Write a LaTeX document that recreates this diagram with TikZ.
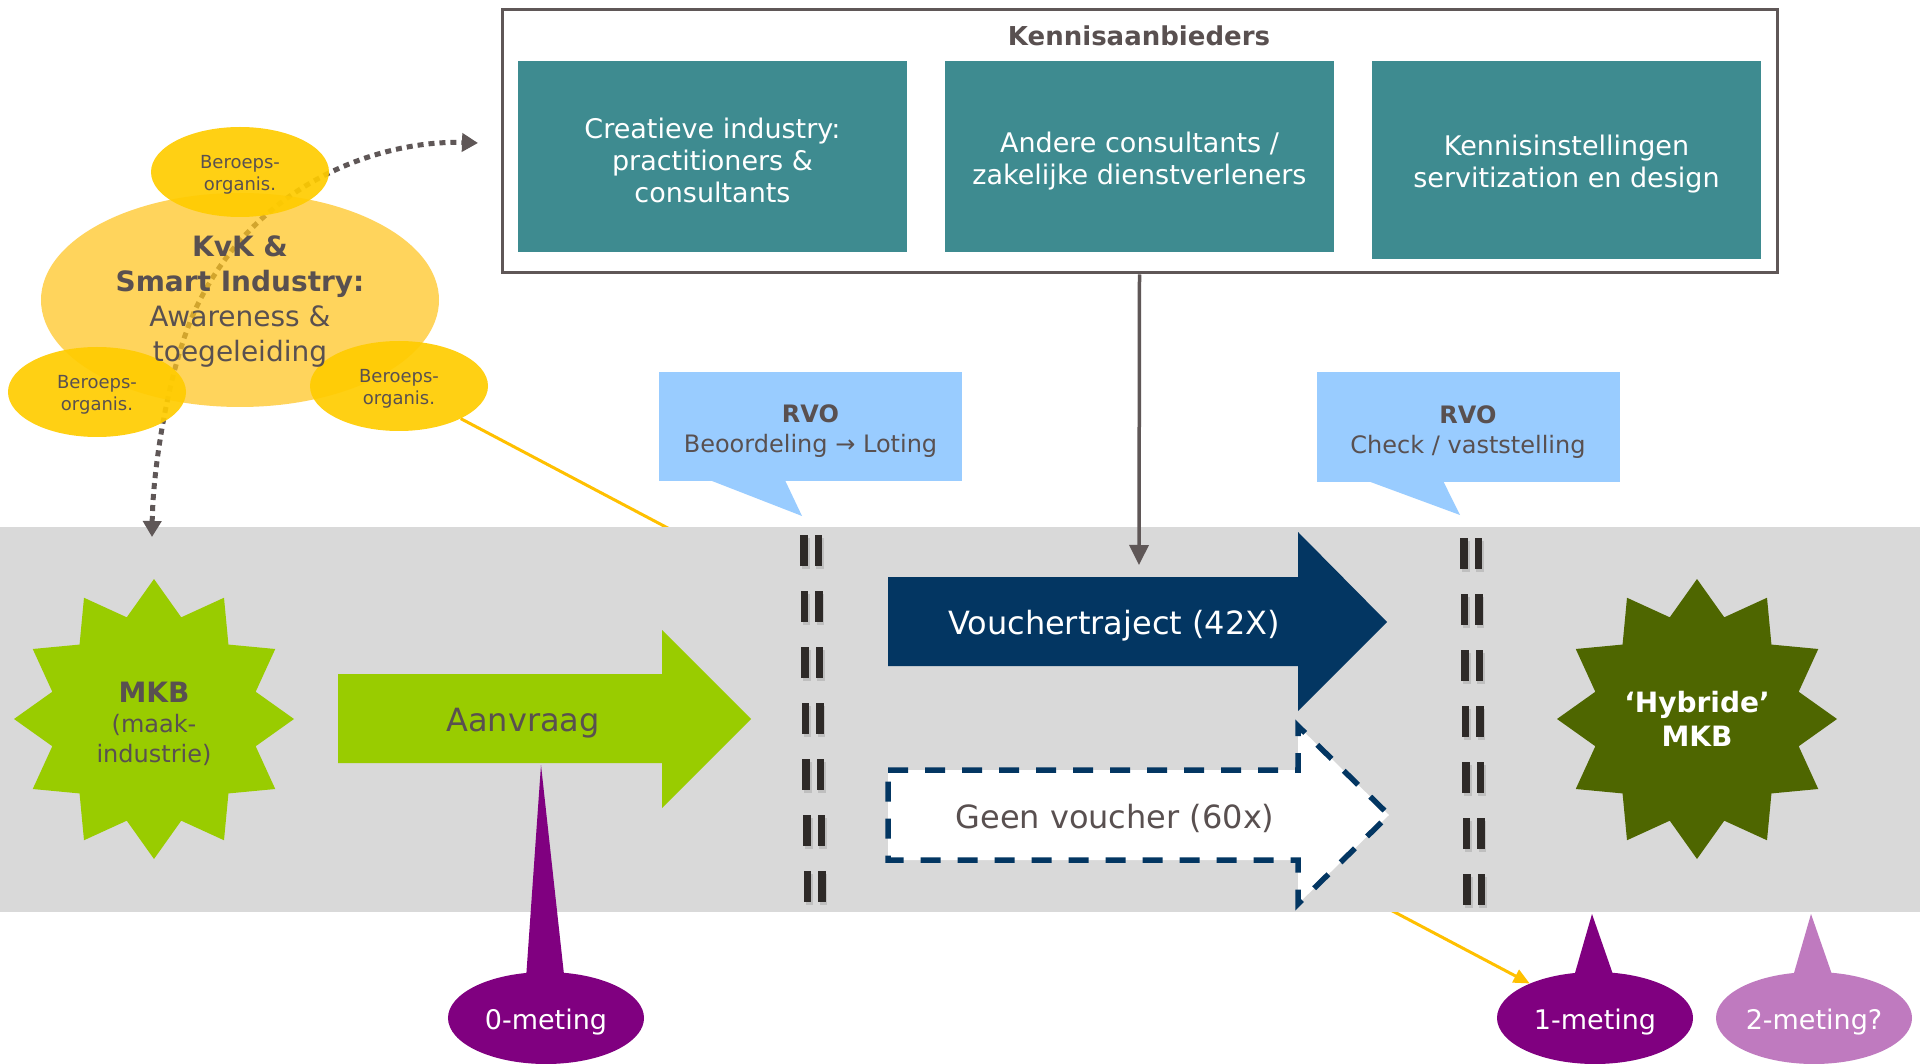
\documentclass[tikz,border=0pt]{standalone}
\usepackage{fontspec}
\setmainfont{DejaVu Sans}
\usepackage{xcolor}
\usepackage{tikz}
\usetikzlibrary{shapes.geometric, shapes.callouts, arrows.meta, positioning}

\pgfdeclarelayer{back}
\pgfdeclarelayer{band}
\pgfsetlayers{back,band,main}

\definecolor{txtgray}{RGB}{89,80,80}
\definecolor{linegray}{RGB}{95,87,87}
\definecolor{tealbox}{RGB}{62,139,144}
\definecolor{bandgray}{RGB}{217,217,217}
\definecolor{navyblue}{RGB}{3,54,98}
\definecolor{limegreen}{RGB}{153,204,0}
\definecolor{hybridgreen}{RGB}{78,102,0}
\definecolor{rvoblue}{RGB}{153,204,255}
\definecolor{purpledark}{RGB}{128,0,128}
\definecolor{purplelight}{RGB}{191,122,191}
\definecolor{kvkyellow}{RGB}{255,196,30}
\definecolor{beroepsyellow}{RGB}{255,204,0}
\definecolor{linkyellow}{RGB}{255,192,0}
\definecolor{barblack}{RGB}{46,42,40}

\newcommand{\setpx}[2]{\fontsize{#1}{#2}\selectfont}
% raise the first line box so the text sits a bit lower in its shape
\newcommand{\toprule}[1]{\rule{0pt}{#1}}

\begin{document}
\begin{tikzpicture}[
        x=1pt, y=-1pt,
        font=\setpx{27}{32},
        kbox/.style={rectangle, fill=tealbox, text=white, align=center, minimum width=389, minimum height=191, inner sep=0},
        rvo/.style={rectangle, fill=rvoblue, text=txtgray, align=center, minimum width=303, minimum height=109, inner sep=0, font=\setpx{24}{30}},
        beroeps/.style={ellipse, fill=beroepsyellow, fill opacity=0.92, text opacity=1, text=txtgray, align=center, minimum width=178, minimum height=90, inner sep=0, font=\setpx{18}{22}},
        meting/.style={ellipse callout, callout pointer arc=22, text=white, minimum width=196, minimum height=92, inner sep=0},
        mstar/.style={star, star points=12, star point ratio=1.33, minimum size=280, inner sep=0, align=center},
        dotlink/.style={linegray, line width=5, dash pattern=on 6 off 5, <->, >={Triangle[width=18,length=16]}},
        barpair/.style={fill=barblack}
    ]
    \useasboundingbox (0,0) rectangle (1920,1064);
    \begin{pgfonlayer}{back}
        \fill[white] (0,0) rectangle (1920,1064);
    \end{pgfonlayer}

    % Kennisaanbieders
    \node[draw=linegray, line width=3, minimum width=1275, minimum height=263, inner sep=0] (kennis) at (1139.5,141.5) {};
    \node[font=\setpx{26}{31}\bfseries, text=txtgray] (kennistitel) at (1139,36) {Kennisaanbieders};
    \node[kbox] (creatief) at (712.5,156.5) {\toprule{28.5pt}Creatieve industry:\\practitioners \&\\consultants};
    \node[kbox] (andere) at (1139.5,156.5) {\toprule{29pt}Andere consultants /\\zakelijke dienstverleners};
    \node[kbox, minimum height=198] (instelling) at (1566.5,160) {\toprule{29pt}Kennisinstellingen\\servitization en design};

    % Band
    \begin{pgfonlayer}{band}
        \fill[bandgray] (0,527) rectangle (1920,912);
    \end{pgfonlayer}

    % Gates
    \foreach \i in {0,...,6} {
        \pgfmathsetmacro\xa{811+0.6*\i}
        \pgfmathsetmacro\ya{550.5+56*\i}
        \pgfmathsetmacro\xb{1471+0.5*\i}
        \pgfmathsetmacro\yb{553.5+56*\i}
        \fill[black!25] (\xa-9,\ya-13) rectangle ++(7.5,31);
        \fill[black!25] (\xa+5,\ya-13) rectangle ++(7.5,31);
        \fill[barpair] (\xa-11,\ya-15.5) rectangle ++(7.5,31);
        \fill[barpair] (\xa+3.5,\ya-15.5) rectangle ++(7.5,31);
        \fill[black!25] (\xb-9,\yb-13) rectangle ++(7.5,31);
        \fill[black!25] (\xb+5,\yb-13) rectangle ++(7.5,31);
        \fill[barpair] (\xb-11,\yb-15.5) rectangle ++(7.5,31);
        \fill[barpair] (\xb+3.5,\yb-15.5) rectangle ++(7.5,31);
    }

    % Block arrows
    \fill[limegreen] (338,674) -- (662,674) -- (662,630) -- (751,719) -- (662,808) -- (662,763) -- (338,763) -- cycle;
    \node[font=\setpx{32}{38}, text=txtgray] (aanvraag) at (523,723) {Aanvraag};
    \fill[navyblue] (888,577) -- (1298,577) -- (1298,532) -- (1387,622) -- (1298,711) -- (1298,666) -- (888,666) -- cycle;
    \node[font=\setpx{32}{38}, text=white] (voucher) at (1114,626) {Vouchertraject (42X)};
    \draw[navyblue, fill=white, line width=5.5, dash pattern=on 20 off 17] (888,770) -- (1298,770) -- (1298,726) -- (1389,815) -- (1298,904) -- (1298,860) -- (888,860) -- cycle;
    \node[font=\setpx{32}{38}, text=txtgray] (geen) at (1115,818) {Geen voucher (60x)};

    % Stars
    \node[mstar, fill=limegreen, text=txtgray, font=\setpx{24}{30}] (mkb) at (154,719) {{\setpx{28}{30}\bfseries\toprule{30.5pt}MKB}\\(maak-\\industrie)};
    \node[mstar, fill=hybridgreen, text=white, font=\setpx{28}{34}\bfseries] (hybride) at (1697,719) {‘Hybride’\\MKB};

    % RVO
    \node[rvo] (rvo1) at (810.5,426.5) {\toprule{27.5pt}\textbf{RVO}\\Beoordeling → Loting};
    \coordinate (rvo1tip) at (802,516);
    \fill[rvoblue] ([xshift=-100.5,yshift=1]rvo1.south) -- ([xshift=-25.5,yshift=1]rvo1.south) -- (rvo1tip) -- cycle;
    \node[rvo] (rvo2) at (1468,427) {\toprule{27.5pt}\textbf{RVO}\\Check / vaststelling};
    \coordinate (rvo2tip) at (1460,515);
    \fill[rvoblue] ([xshift=-101,yshift=1]rvo2.south) -- ([xshift=-25,yshift=1]rvo2.south) -- (rvo2tip) -- cycle;

    % Connections
    \coordinate (vin) at (1139,565);
    \draw[linegray, line width=3.5, -{Triangle[width=19,length=20]}] (kennis.south) -- (vin);
    \coordinate (dotlo) at (152,537);
    \coordinate (dothi) at (478,143);
    \draw[dotlink] (dotlo) .. controls (153,460) and (172,353) .. (200,300) .. controls (264,175) and (390,140) .. (dothi);

    % KvK
    \node[ellipse, fill=kvkyellow, fill opacity=0.72, minimum width=398, minimum height=214, inner sep=0] (kvk) at (240,300) {};
    \node[beroeps] (beroeps1) at (240,172) {\toprule{18pt}Beroeps-\\organis.};
    \node[beroeps] (beroeps2) at (97,392) {\toprule{18pt}Beroeps-\\organis.};
    \node[beroeps] (beroeps3) at (399,386) {\toprule{18pt}Beroeps-\\organis.};
    \node[text=txtgray, align=center, font=\setpx{28}{34.7}] (kvktekst) at (240,301.5) {\textbf{KvK \&}\\\textbf{Smart Industry:}\\Awareness \&\\toegeleiding};

    % Metingen
    \node[meting, fill=purpledark, callout absolute pointer={(541,765)}] (meting0) at (546,1018) {\toprule{28pt}0-meting};
    \node[meting, fill=purpledark, callout absolute pointer={(1592,914)}] (meting1) at (1595,1018) {\toprule{28pt}1-meting};
    \node[meting, fill=purplelight, callout absolute pointer={(1811,914)}] (meting2) at (1814,1018) {\toprule{28pt}2-meting?};

    \begin{pgfonlayer}{back}
        \draw[linkyellow, line width=3, -{Triangle[width=14,length=16]}] (beroeps3) -- (meting1);
    \end{pgfonlayer}

\end{tikzpicture}
\end{document}
